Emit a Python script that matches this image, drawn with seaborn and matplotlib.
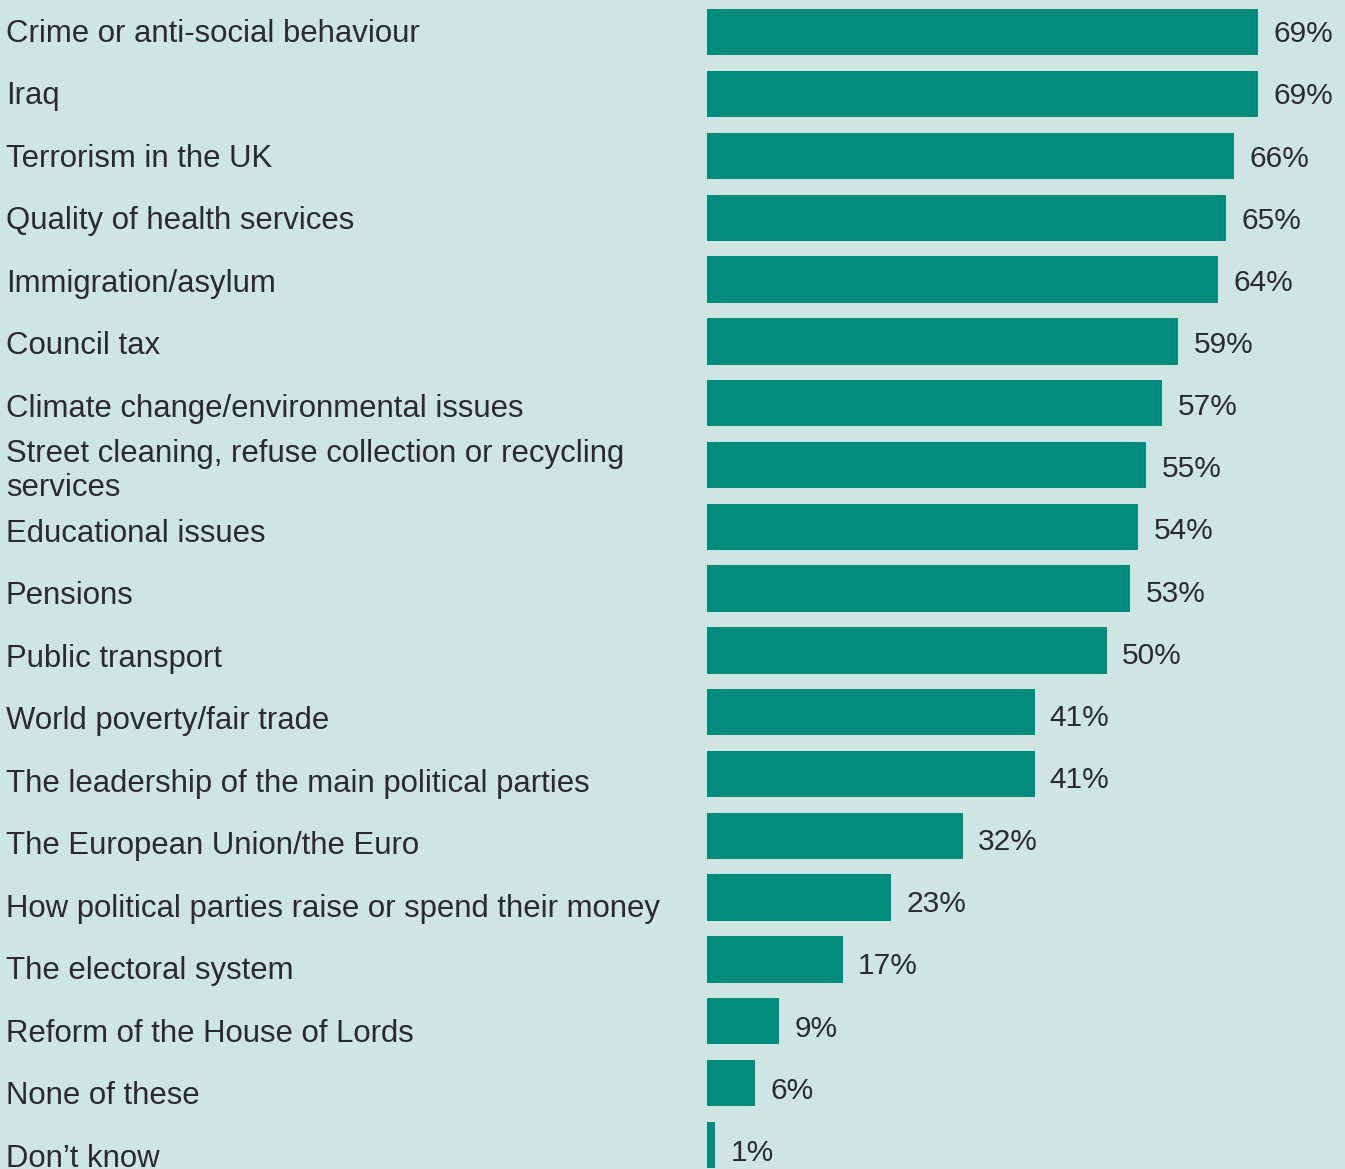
import matplotlib
matplotlib.use("Agg")
import matplotlib.pyplot as plt
import matplotlib.transforms as mtransforms
import seaborn as sns
import pandas as pd

categories = [
    "Crime or anti-social behaviour",
    "Iraq",
    "Terrorism in the UK",
    "Quality of health services",
    "Immigration/asylum",
    "Council tax",
    "Climate change/environmental issues",
    "Street cleaning, refuse collection or recycling\nservices",
    "Educational issues",
    "Pensions",
    "Public transport",
    "World poverty/fair trade",
    "The leadership of the main political parties",
    "The European Union/the Euro",
    "How political parties raise or spend their money",
    "The electoral system",
    "Reform of the House of Lords",
    "None of these",
    "Don\u2019t know",
]
values = [69, 69, 66, 65, 64, 59, 57, 55, 54, 53, 50, 41, 41, 32, 23, 17, 9, 6, 1]

BG = "#cfe5e1"
BAR = "#008c7d"
TEXT = "#2b2b2b"

sns.set_theme(style="white")
plt.rcParams["font.family"] = ["Liberation Sans", "DejaVu Sans"]

df = pd.DataFrame({"issue": categories, "pct": values})

W, H = 1345, 1169
fig = plt.figure(figsize=(W / 100, H / 100), dpi=100, facecolor=BG)
ax = fig.add_axes([707 / W, 0, (W - 707) / W, 1])
ax.set_facecolor(BG)

sns.barplot(data=df, y="issue", x="pct", orient="h", color=BAR,
            saturation=1, width=0.75, ax=ax)
for p in ax.patches:
    p.set_edgecolor("none")

ax.set_xlim(0, (W - 707) / 7.99)
ax.set_ylim(18.39, -0.522)
ax.set_xlabel("")
ax.set_ylabel("")
ax.set_xticks([])
ax.set_yticks([])
for s in ax.spines.values():
    s.set_visible(False)

pad = 11
anns = ax.bar_label(ax.containers[0], labels=[f"{v}%" for v in values],
                    padding=pad, fontsize=21.5, color=TEXT)
# nudge the value labels slightly downward, a little more towards the bottom
n = len(anns)
for i, a in enumerate(anns):
    a.xyann = (pad, -0.72 * (2 + 6 * i / (n - 1)))

# category names sit in their own left-aligned column at the figure edge
trans = mtransforms.blended_transform_factory(fig.transFigure, ax.transData)
for i, name in enumerate(categories):
    ax.text(6 / W, i * 1.0113 + 0.02, name, transform=trans, ha="left",
            va="center", fontsize=22.4, color=TEXT, linespacing=1.15,
            clip_on=False)

fig.savefig("out.png", dpi=100, facecolor=BG)
